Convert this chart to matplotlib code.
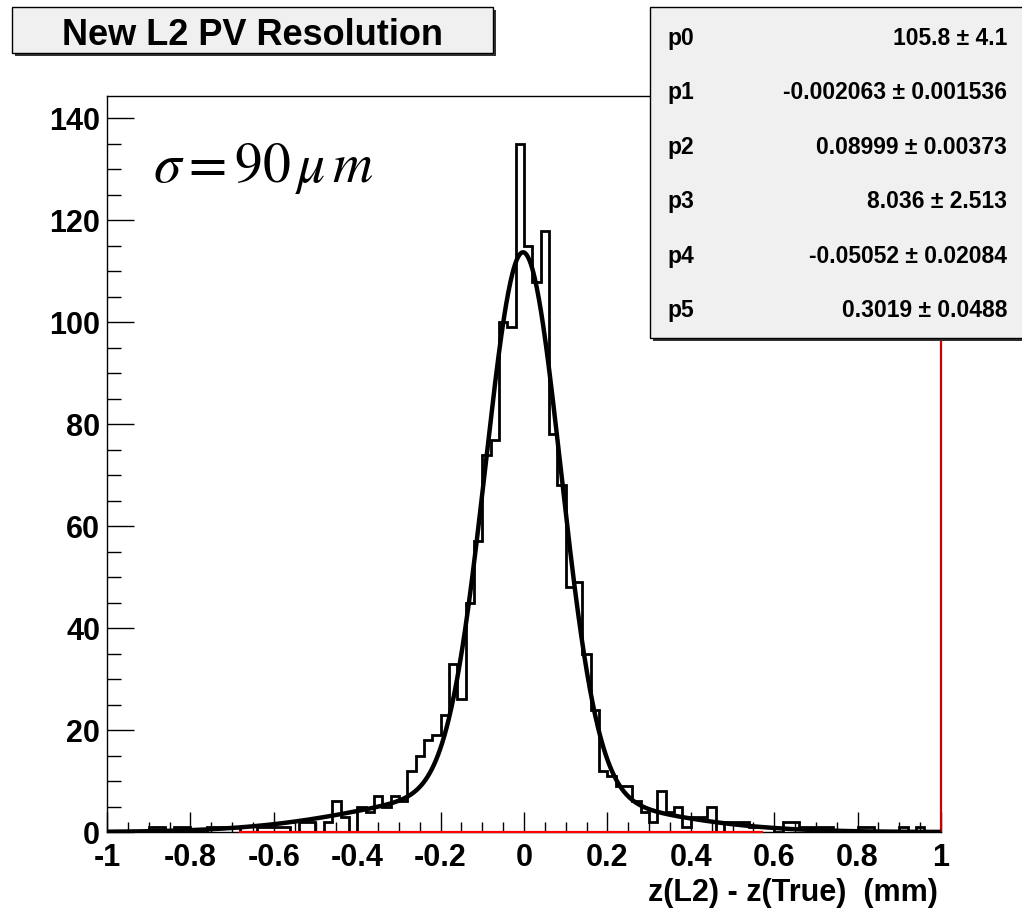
import numpy as np
import matplotlib
matplotlib.use('Agg')
import matplotlib.pyplot as plt
from matplotlib.patches import Rectangle

# ---------------- data ----------------
counts = [0, 0, 0, 0, 0, 1, 1, 0, 1, 1,
          0, 0, 1, 1, 1, 1, 0, 0, 1, 1,
          1, 1, 0, 2, 2, 0, 2, 6, 3, 0,
          5, 4, 7, 5, 7, 6, 12, 15, 18, 19,
          23, 33, 26, 45, 57, 74, 77, 100, 99, 135,
          115, 108, 118, 78, 68, 48, 49, 35, 24, 12,
          11, 9, 9, 6, 4, 2, 8, 4, 5, 1,
          3, 3, 5, 0, 2, 2, 2, 1, 1, 1,
          0, 2, 2, 1, 1, 1, 1, 0, 0, 0,
          1, 1, 0, 0, 0, 1, 0, 1, 0, 0]
bin_lo, bin_hi, n_bins = -1.0, 1.0, 100

param_names = ['p0', 'p1', 'p2', 'p3', 'p4', 'p5']
param_values = [105.8, -0.002063, 0.08999, 8.036, -0.05052, 0.3019]
param_texts = ['105.8 \u00b1 4.1', '-0.002063 \u00b1 0.001536', '0.08999 \u00b1 0.00373',
               '8.036 \u00b1 2.513', '-0.05052 \u00b1 0.02084', '0.3019 \u00b1 0.0488']

xticks = [-1, -0.8, -0.6, -0.4, -0.2, 0, 0.2, 0.4, 0.6, 0.8, 1]
xtick_labels = ['-1', '-0.8', '-0.6', '-0.4', '-0.2', '0', '0.2', '0.4', '0.6', '0.8', '1']
yticks = [0, 20, 40, 60, 80, 100, 120, 140]
ytick_labels = ['0', '20', '40', '60', '80', '100', '120', '140']

title = 'New L2 PV Resolution'
xlabel = 'z(L2) - z(True)  (mm)'
annot = r'$\sigma = 90\,\mu\, m$'

# ---------------- figure ----------------
W, H = 1022, 910
fig = plt.figure(figsize=(W / 100, H / 100), dpi=100)
fig.patch.set_facecolor('white')
plt.rcParams['font.family'] = ['Liberation Sans', 'DejaVu Sans']
plt.rcParams['mathtext.fontset'] = 'stix'

def fx(px):
    return px / W

def fy(py):
    return 1 - py / H

ax = fig.add_axes([fx(107), fy(832), fx(941) - fx(107), fy(96) - fy(832)])
ax.set_xlim(-1, 1)
ax.set_ylim(0, 144.4)

edges = np.linspace(bin_lo, bin_hi, n_bins + 1)
ax.stairs(counts, edges, color='black', lw=2.0, zorder=3)

# fit function (double gaussian)
xf = np.linspace(-1, 1, 1200)
p0, p1, p2, p3, p4, p5 = param_values
yf = p0 * np.exp(-0.5 * ((xf - p1) / p2) ** 2) + p3 * np.exp(-0.5 * ((xf - p4) / p5) ** 2)
ax.plot(xf, yf, color='black', lw=3.2, zorder=4)

# red baseline function segment
ax.plot([-0.68, 0.57], [0, 0], color='red', lw=1.6, zorder=5, clip_on=False)

for s in ['top', 'left', 'bottom']:
    ax.spines[s].set_color('black')
    ax.spines[s].set_linewidth(1.0)
ax.spines['right'].set_color('#cc0000')
ax.spines['right'].set_linewidth(1.6)

ax.set_xticks(xticks)
ax.set_xticklabels(xtick_labels)
ax.set_xticks(np.arange(-1, 1.0001, 0.05), minor=True)
ax.set_yticks(yticks)
ax.set_yticklabels(ytick_labels)
ax.set_yticks(np.arange(0, 144, 5), minor=True)

ax.tick_params(axis='x', which='major', direction='in', length=14.5, width=1.0,
               pad=8, labelsize=22)
ax.tick_params(axis='x', which='minor', direction='in', length=7.2, width=1.0)
ax.tick_params(axis='y', which='major', direction='in', length=19.5, width=1.0,
               pad=5, labelsize=22)
ax.tick_params(axis='y', which='minor', direction='in', length=10, width=1.0)
for lab in ax.get_xticklabels() + ax.get_yticklabels():
    lab.set_fontweight('bold')

# annotation
fig.text(fx(153), fy(182), annot, fontsize=40, ha='left', va='baseline')

# x label
fig.text(fx(938), fy(893), xlabel, fontsize=22, fontweight='bold', ha='right', va='center')

# title box with shadow
fig.add_artist(Rectangle((fx(15), fy(56)), fx(493) - fx(12), fy(7) - fy(53),
                         transform=fig.transFigure, facecolor='#333333', edgecolor='none', zorder=10))
fig.add_artist(Rectangle((fx(12), fy(53)), fx(493) - fx(12), fy(7) - fy(53),
                         transform=fig.transFigure, facecolor='#f0f0f0', edgecolor='black', lw=1.0, zorder=11))
fig.text(fx(252), fy(45), title, fontsize=26, fontweight='bold', ha='center', va='baseline', zorder=12)

# stats box with shadow
fig.add_artist(Rectangle((fx(653), fy(341)), fx(1022) - fx(650), fy(7) - fy(338),
                         transform=fig.transFigure, facecolor='#333333', edgecolor='none', zorder=10))
fig.add_artist(Rectangle((fx(650), fy(338)), fx(1025) - fx(650), fy(7) - fy(338),
                         transform=fig.transFigure, facecolor='#f0f0f0', edgecolor='black', lw=1.0, zorder=11))
row_base = [45, 99.4, 153.8, 208.2, 262.6, 317]
for name, txt, yb in zip(param_names, param_texts, row_base):
    fig.text(fx(667), fy(yb), name, fontsize=16.5, fontweight='bold', ha='left', va='baseline', zorder=12)
    fig.text(fx(1007), fy(yb), txt, fontsize=16.5, fontweight='bold', ha='right', va='baseline', zorder=12)

fig.savefig('out.png', dpi=100, facecolor='white')
